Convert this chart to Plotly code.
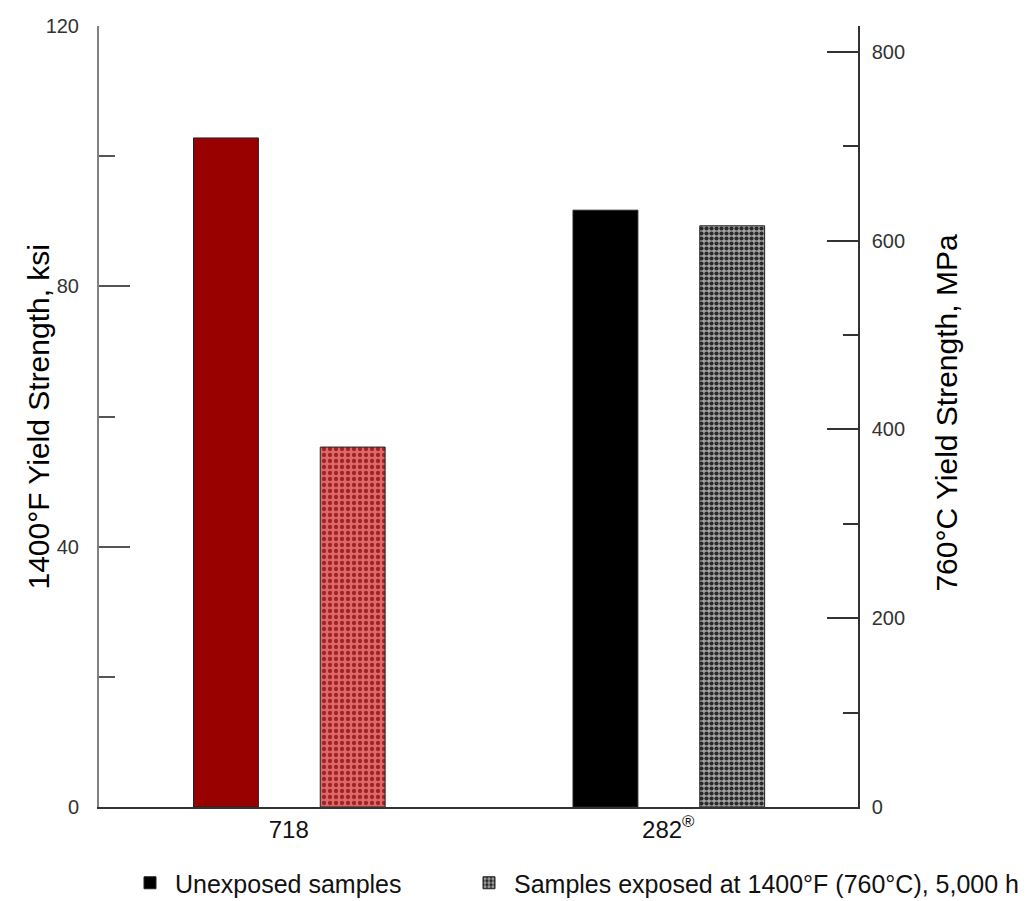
import plotly.graph_objects as go

# ---- data ----
alloys = ["718", "282<sup>®</sup>"]
unexposed_ksi = [102.8, 91.7]
exposed_ksi = [55.3, 89.3]
legend_names = ["Unexposed samples", "Samples exposed at 1400°F (760°C), 5,000 h"]
left_ticks = [0, 40, 80, 120]
right_ticks = [0, 200, 400, 600, 800]
KSI_TO_MPA = 6.894757

FONT = "Liberation Sans, Arial, sans-serif"
W, H = 1022, 893  # page body has an 8px margin

BAR_W = 0.171
OFF_UNEXP = -0.251
OFF_EXP = 0.083

fig = go.Figure()

line_style = dict(color="#222222", width=1)
red_pattern = dict(shape=".", fgcolor="#9e2424", bgcolor="#e06868",
                   size=6, solidity=0.4, fillmode="replace")
grey_pattern = dict(shape=".", fgcolor="#2a2a2a", bgcolor="#a4a4a4",
                    size=5, solidity=0.55, fillmode="replace")

# 718 bars (no legend)
fig.add_trace(go.Bar(
    x=[alloys[0]], y=[unexposed_ksi[0]], width=BAR_W, offset=OFF_UNEXP,
    marker=dict(color="#990000", line=line_style), showlegend=False,
    name=legend_names[0]))
fig.add_trace(go.Bar(
    x=[alloys[0]], y=[exposed_ksi[0]], width=BAR_W, offset=OFF_EXP,
    marker=dict(color="#e06868", line=line_style, pattern=red_pattern),
    showlegend=False, name=legend_names[1]))
# 282 bars (legend)
fig.add_trace(go.Bar(
    x=[alloys[1]], y=[unexposed_ksi[1]], width=BAR_W, offset=OFF_UNEXP,
    marker=dict(color="#000000", line=line_style), name=legend_names[0],
    legend="legend"))
fig.add_trace(go.Bar(
    x=[alloys[1]], y=[exposed_ksi[1]], width=BAR_W, offset=OFF_EXP,
    marker=dict(color="#777777", line=line_style, pattern=grey_pattern),
    name=legend_names[1], legend="legend2"))

legend_common = dict(orientation="h", xref="container", yref="container",
                     xanchor="left", yanchor="top", itemwidth=40,
                     font=dict(size=25, color="#111111", family=FONT),
                     bgcolor="rgba(0,0,0,0)")

fig.update_layout(
    width=W, height=H,
    margin=dict(l=91, r=172, t=18, b=94, autoexpand=False),
    paper_bgcolor="white", plot_bgcolor="white",
    font=dict(family=FONT, color="#333333"),
    barmode="overlay",
    showlegend=True,
    legend=dict(x=117 / W, y=1 - 852 / H, **legend_common),
    legend2=dict(x=456 / W, y=1 - 852 / H, **legend_common),
    xaxis=dict(type="category", categoryorder="array", categoryarray=alloys,
               range=[-0.5, 1.5], showline=True, linecolor="#333333", linewidth=1.5,
               ticks="", showgrid=False, zeroline=False,
               tickfont=dict(size=24, color="#111111", family=FONT)),
    yaxis=dict(range=[0, 120], tickvals=left_ticks, showline=True,
               linecolor="#808080", linewidth=2, ticks="inside", ticklen=31,
               tickwidth=1.5, tickcolor="#555555", showgrid=False, zeroline=False,
               ticklabelstandoff=14,
               tickfont=dict(size=20, color="#333333", family=FONT),
               minor=dict(ticks="inside", ticklen=16, dtick=20, tickwidth=1.5,
                          tickcolor="#555555", showgrid=False)),
    yaxis2=dict(range=[0, 120 * KSI_TO_MPA], tickvals=right_ticks, overlaying="y",
                side="right", showline=True, linecolor="#333333", linewidth=1.5,
                ticks="inside", ticklen=31, tickwidth=1.5, tickcolor="#333333",
                showgrid=False, zeroline=False, ticklabelstandoff=8,
                tickfont=dict(size=20, color="#333333", family=FONT),
                minor=dict(ticks="inside", ticklen=15, dtick=100, tickwidth=1.5,
                           tickcolor="#333333", showgrid=False)),
    annotations=[
        dict(text="1400°F Yield Strength, ksi", xref="paper", yref="paper",
             x=(38 - 99) / 759, y=0.5, xanchor="center", yanchor="middle",
             textangle=-90, showarrow=False,
             font=dict(size=30, color="#000000", family=FONT)),
        dict(text="760°C Yield Strength, MPa", xref="paper", yref="paper",
             x=(947 - 99) / 759, y=0.505, xanchor="center", yanchor="middle",
             textangle=-90, showarrow=False,
             font=dict(size=30, color="#000000", family=FONT)),
    ],
)

# invisible trace to anchor right axis
fig.add_trace(go.Scatter(x=[alloys[0]], y=[0], yaxis="y2", mode="markers",
                         marker=dict(opacity=0), showlegend=False, hoverinfo="skip"))

fig.write_html("out.html")
